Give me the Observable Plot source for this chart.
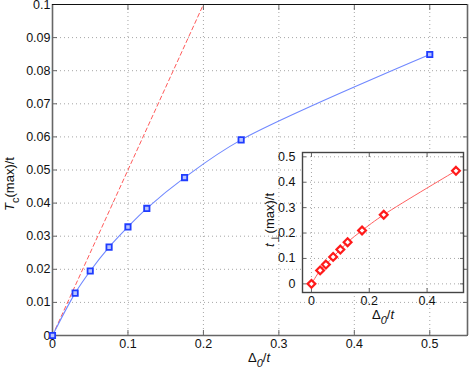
<!DOCTYPE html>
<html><head><meta charset="utf-8">
<script src="https://cdn.jsdelivr.net/npm/d3@7"></script>
<script src="https://cdn.jsdelivr.net/npm/@observablehq/plot@0.6"></script>
<style>
body{margin:0;background:#fff;}
#wrap{position:relative;width:469px;height:371px;font-family:"Liberation Sans",Arial,sans-serif;}
#wrap svg{position:absolute;overflow:visible;}
</style></head><body><div id="wrap"></div>
<script>
// Data
const delta = [0, 0.03, 0.05, 0.075, 0.1, 0.125, 0.175, 0.25, 0.5];
const tcMax = [0, 0.0128, 0.0195, 0.0267, 0.0328, 0.0384, 0.0477, 0.0591, 0.0849];
const tPerpMax = [0, 0.053, 0.076, 0.106, 0.135, 0.164, 0.21, 0.272, 0.445];
const linearDelta = [0, 0.2];
const linearTc = [0, 0.1];
const mainXTicks = [0, 0.1, 0.2, 0.3, 0.4, 0.5];
const mainYTicks = [0, 0.01, 0.02, 0.03, 0.04, 0.05, 0.06, 0.07, 0.08, 0.09, 0.1];
const insetXTicks = [0, 0.2, 0.4];
const insetYTicks = [0, 0.1, 0.2, 0.3, 0.4, 0.5];
const mainYLabel = [{t: "T", i: true}, {t: "c", sub: true}, {t: "(max)/t"}];
const xLabel = [{t: "Δ"}, {t: "0", sub: true, i: true}, {t: "/"}, {t: "t", i: true}];
const insetYLabel = [{t: "t", i: true}, {t: "⊥", sub: true}, {t: "(max)/t"}];

const mainPts = delta.map((d, k) => ({x: d, y: tcMax[k]}));
const linPts = linearDelta.map((d, k) => ({x: d, y: linearTc[k]}));
const insetPts = delta.map((d, k) => ({x: d, y: tPerpMax[k]}));

const font = "Liberation Sans, Arial, sans-serif";
const gridStyle = {stroke: "#888", strokeOpacity: 0.75, strokeDasharray: "1,3"};
const axisColor = "#666";
const fmt = d => String(d);

const main = Plot.plot({
  width: 469, height: 371,
  marginLeft: 52, marginRight: 2, marginTop: 4, marginBottom: 36,
  style: {fontFamily: font, fontSize: "12.5px", background: "transparent", color: "#111"},
  x: {domain: [0, 0.55]},
  y: {domain: [0, 0.1]},
  marks: [
    Plot.gridX(mainXTicks, gridStyle),
    Plot.gridY(mainYTicks, gridStyle),
    Plot.axisX(mainXTicks, {anchor: "bottom", tickSize: 5, dy: -5, fill: "none", stroke: axisColor, label: null}),
    Plot.axisX(mainXTicks, {anchor: "top", tickSize: 5, dy: 5, fill: "none", stroke: axisColor, label: null}),
    Plot.axisY(mainYTicks, {anchor: "left", tickSize: 5, dx: 5, fill: "none", stroke: axisColor, label: null}),
    Plot.axisY(mainYTicks, {anchor: "right", tickSize: 5, dx: -5, fill: "none", stroke: axisColor, label: null}),
    Plot.axisX(mainXTicks, {anchor: "bottom", tickSize: 0, tickPadding: 4, tickFormat: fmt, label: null, fill: "#111"}),
    Plot.axisY(mainYTicks, {anchor: "left", tickSize: 0, tickPadding: 2, tickFormat: fmt, label: null, fill: "#111"}),
    Plot.ruleX([0], {stroke: axisColor, strokeWidth: 1.6}),
    Plot.ruleX([0.55], {stroke: axisColor, strokeWidth: 1.6}),
    Plot.ruleY([0], {stroke: axisColor, strokeWidth: 1.6}),
    Plot.ruleY([0.1], {stroke: "#111", strokeWidth: 1}),
    Plot.line(linPts, {x: "x", y: "y", stroke: "#ff5a5a", strokeWidth: 1, strokeDasharray: "4,3"}),
    Plot.line(mainPts, {x: "x", y: "y", stroke: "#7088ff", strokeWidth: 1.1, curve: "catmull-rom"}),
    Plot.dot(mainPts, {x: "x", y: "y", symbol: "square", r: 3, stroke: "#1f3cff", strokeWidth: 1.8, fill: "#b8c4ff"})
  ]
});
main.style.left = "0px"; main.style.top = "0px";

const inset = Plot.plot({
  width: 211, height: 175,
  marginLeft: 44, marginRight: 6, marginTop: 4, marginBottom: 31,
  style: {fontFamily: font, fontSize: "12.5px", background: "transparent", color: "#111"},
  x: {domain: [-0.031, 0.526]},
  y: {domain: [-0.034, 0.517]},
  marks: [
    Plot.frame({fill: "white", stroke: null}),
    Plot.gridX(insetXTicks, gridStyle),
    Plot.gridY(insetYTicks, gridStyle),
    Plot.axisX(insetXTicks, {anchor: "bottom", tickSize: 4, dy: -4, fill: "none", stroke: axisColor, label: null}),
    Plot.axisX(insetXTicks, {anchor: "top", tickSize: 4, dy: 4, fill: "none", stroke: axisColor, label: null}),
    Plot.axisY(insetYTicks, {anchor: "left", tickSize: 4, dx: 4, fill: "none", stroke: axisColor, label: null}),
    Plot.axisY(insetYTicks, {anchor: "right", tickSize: 4, dx: -4, fill: "none", stroke: axisColor, label: null}),
    Plot.axisX(insetXTicks, {anchor: "bottom", tickSize: 0, tickPadding: 4, tickFormat: fmt, label: null, fill: "#111"}),
    Plot.axisY(insetYTicks, {anchor: "left", tickSize: 0, tickPadding: 7, tickFormat: fmt, label: null, fill: "#111"}),
    Plot.frame({stroke: "#444", strokeWidth: 1.4}),
    Plot.line(insetPts, {x: "x", y: "y", stroke: "#ff6060", strokeWidth: 1, curve: "catmull-rom"}),
    Plot.dot(insetPts, {x: "x", y: "y", symbol: "diamond2", r: 3.5, stroke: "#ff1a1a", strokeWidth: 2.2, fill: "white"})
  ]
});
inset.style.left = "258px"; inset.style.top = "148px";

function addLabel(svg, x, y, rotate, parts, size) {
  const t = d3.select(svg).append("text")
    .attr("transform", `translate(${x},${y}) rotate(${rotate})`)
    .attr("text-anchor", "middle")
    .attr("font-family", font)
    .attr("font-size", size)
    .attr("fill", "#111");
  let shift = 0;
  for (const p of parts) {
    const s = t.append("tspan").text(p.t);
    if (p.i) s.attr("font-style", "italic");
    const want = p.sub ? size * 0.35 : 0;
    if (want !== shift) { s.attr("dy", want - shift); shift = want; }
    if (p.sub) s.attr("font-size", size * 0.85);
  }
}

const wrap = document.getElementById("wrap");
wrap.appendChild(main);
wrap.appendChild(inset);
addLabel(main, 259, 362, 0, xLabel, 13);
addLabel(main, 14, 184, -90, mainYLabel, 13);
addLabel(inset, 125, 171, 0, xLabel, 13);
addLabel(inset, 16, 72, -90, insetYLabel, 13);
</script></body></html>
